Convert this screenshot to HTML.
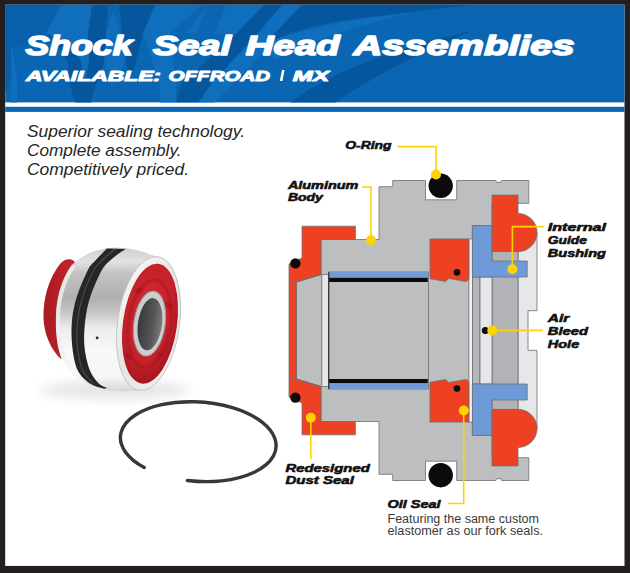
<!DOCTYPE html>
<html><head><meta charset="utf-8">
<style>
html,body{margin:0;padding:0;background:#231f20;}
body{width:630px;height:573px;overflow:hidden;position:relative;}
svg{position:absolute;left:0;top:0;display:block;}
</style></head>
<body>
<svg width="630" height="573" viewBox="0 0 630 573">
<defs>
  <clipPath id="hdrclip"><rect x="5.2" y="4.7" width="619.3" height="97.7"/></clipPath>
  <filter id="blur3" x="-50%" y="-50%" width="200%" height="200%"><feGaussianBlur stdDeviation="6"/></filter>
  <linearGradient id="silver" x1="0" y1="0" x2="0" y2="1">
    <stop offset="0" stop-color="#cfcfcf"/>
    <stop offset="0.1" stop-color="#e2e2e2"/>
    <stop offset="0.18" stop-color="#c2c2c2"/>
    <stop offset="0.35" stop-color="#b0b0b0"/>
    <stop offset="0.46" stop-color="#c8c8c8"/>
    <stop offset="0.56" stop-color="#ededed"/>
    <stop offset="0.72" stop-color="#f8f8f8"/>
    <stop offset="0.9" stop-color="#f6f6f6"/>
    <stop offset="1" stop-color="#d6d6d6"/>
  </linearGradient>
  <radialGradient id="redface" cx="0.45" cy="0.4" r="0.6">
    <stop offset="0" stop-color="#d22a33"/>
    <stop offset="0.7" stop-color="#c4212b"/>
    <stop offset="1" stop-color="#a8161f"/>
  </radialGradient>
  <linearGradient id="redcap" x1="0" y1="0" x2="1" y2="0">
    <stop offset="0" stop-color="#a81a22"/>
    <stop offset="1" stop-color="#c8262e"/>
  </linearGradient>
  <linearGradient id="rim" x1="0" y1="0" x2="1" y2="1">
    <stop offset="0" stop-color="#fafafa"/>
    <stop offset="0.5" stop-color="#e4e4e4"/>
    <stop offset="1" stop-color="#f2f2f2"/>
  </linearGradient>
  <linearGradient id="hole" x1="0" y1="0" x2="1" y2="0">
    <stop offset="0" stop-color="#3a3a3a"/>
    <stop offset="0.6" stop-color="#555"/>
    <stop offset="1" stop-color="#7a7a7a"/>
  </linearGradient>
</defs>

<!-- white content -->
<rect x="5.2" y="4.7" width="619.3" height="561.2" fill="#ffffff"/>
<!-- header -->
<rect x="5.2" y="4.7" width="619.3" height="97.7" fill="#0a66b3"/>
<rect x="5.2" y="106.8" width="619.3" height="5.1" fill="#0a66b3"/>
<g clip-path="url(#hdrclip)">
  <polygon fill="#0860aa" points="5,5 61,5 46,33 30,45 11,48 11,80 5,92"/>
  <g fill="#106fbc">
    <path d="M11,48 C16,62 18,80 17,103 L11,103 C12,85 11,65 11,48 Z"/>
    <polygon points="61,5 92,5 88,33 89,62 85,82 81,62 72,46 46,33"/>
    <polygon points="113,11 120,33 125,62 112,86 104,62 106,33"/>
    <polygon points="155,5 202,5 170,33 176,84 176,103 160,103 160,84 143,33"/>
    <polygon points="206,9 197,33 185,33"/>
    <polygon points="226,5 264,5 236,34 214.6,34"/>
    <polygon points="282,5 302,5 282,34 214,103 198,103 211,84 257,34"/>
    <path d="M262,46 C285,34 330,22 410,13 C360,25 310,40 275,60 Z"/>
  </g>
  <g fill="#06569e">
    <polygon points="46,33 72,46 81,62 85,82 89,62 88,33 92,5 108,5 106,33 104,62 96.4,84 91,103 75,103 69.7,84 68,62 55,42"/>
    <polygon points="119,5 155,5 143,33 136,62 128,84 126,62 122,33"/>
    <polygon points="264,5 282,5 257,34 211,84 198,103 176,103 181,84 236,34"/>
    <path d="M302,5 L470,5 C430,10 380,15 340,21 C305,27 280,36 262,46 Z"/>
    <path d="M290,103 C320,80 375,52 475,30 C425,50 370,78 335,103 Z"/>
  </g>
</g>

<!-- header titles -->
<g font-family="Liberation Sans" font-weight="bold" font-style="italic" font-size="28.5" fill="#fff" stroke="#fff" stroke-width="1.6" stroke-linejoin="round">
<text x="25.5" y="54.5" textLength="107" lengthAdjust="spacingAndGlyphs">Shock</text>
<text x="153" y="54.5" textLength="78" lengthAdjust="spacingAndGlyphs">Seal</text>
<text x="245.8" y="54.5" textLength="94" lengthAdjust="spacingAndGlyphs">Head</text>
<text x="353.5" y="54.5" textLength="221" lengthAdjust="spacingAndGlyphs">Assemblies</text>
</g>
<g font-family="Liberation Sans" font-weight="bold" font-style="italic" font-size="15.2" fill="#fff" stroke="#fff" stroke-width="1" stroke-linejoin="round">
<text x="26" y="81" textLength="135" lengthAdjust="spacingAndGlyphs">AVAILABLE:</text>
<text x="168.6" y="81" textLength="101.5" lengthAdjust="spacingAndGlyphs">OFFROAD</text>
<text x="292.8" y="81" textLength="36.2" lengthAdjust="spacingAndGlyphs">MX</text>
</g>
<polygon points="282,70 284.6,70 282.4,81 279.8,81" fill="#fff"/>

<!-- intro text -->
<g font-family="Liberation Sans" font-style="italic" font-size="15.8" fill="#262626">
<text x="27" y="136.8" textLength="218" lengthAdjust="spacingAndGlyphs">Superior sealing technology.</text>
<text x="27" y="155.8" textLength="154.5" lengthAdjust="spacingAndGlyphs">Complete assembly.</text>
<text x="27" y="174.8" textLength="162" lengthAdjust="spacingAndGlyphs">Competitively priced.</text>
</g>

<!-- ===== DIAGRAM ===== -->
<g stroke="#6d6e71" stroke-width="0.8" stroke-linejoin="miter">
  <!-- light gray right piece -->
  <polygon fill="#e6e7e8" points="518,232 537,232 537,310.7 528,310.7 528,350.3 537,350.3 537,429 518,429"/>
  <!-- medium gray strip -->
  <rect x="492" y="251.6" width="26" height="157.8" fill="#b1b3b6"/>
  <!-- main body -->
  <polygon fill="#bcbec0" points="321,239.5 379,239.5 379,186.7 392.7,186.7 392.7,180.5 425.5,180.5 425.5,199.8 456.7,199.8 456.7,180.5 495.9,180.5 496.5,182.3 501,182.3 501.5,180.5 528.8,180.5 528.8,203.3 492,203.3 492,225.6 472.4,225.6 472.4,435.4 492,435.4 492,457.7 528.8,457.7 528.8,480.5 501.5,480.5 501,478.7 496.5,478.7 495.9,480.5 456.7,480.5 456.7,461.2 425.5,461.2 425.5,480.5 392.7,480.5 392.7,474.3 379,474.3 379,421.5 321,421.5 321,386.5 296.4,378.9 296.4,282.1 321,274.5"/>
  <!-- inner strips right -->
  <rect x="472.4" y="277" width="7.6" height="107" fill="#b4b6b9"/>
  <rect x="480" y="277" width="12" height="107" fill="#e6e7e8"/>
  <rect x="468.9" y="238.9" width="3.5" height="183.2" fill="#f1f2f2"/>
  <!-- white strip left of bore -->
  <rect x="321.8" y="274.5" width="6.7" height="112" fill="#e6e7e8"/>
  <!-- bore -->
  <rect x="328.5" y="272" width="99.9" height="117" fill="#bcbec0"/>
</g>
<!-- bore strips -->
<rect x="329" y="272.2" width="98.8" height="5.6" fill="#6f9ad8"/>
<rect x="329" y="277.8" width="98.8" height="4.2" fill="#0b0b0b"/>
<rect x="329" y="379" width="98.8" height="4.3" fill="#0b0b0b"/>
<rect x="329" y="383.3" width="98.8" height="5.6" fill="#6f9ad8"/>
<line x1="328.7" y1="272" x2="328.7" y2="389" stroke="#3c3c3e" stroke-width="1.4"/>

<g stroke="#6d6e71" stroke-width="0.8">
  <!-- blue L pieces -->
  <polygon fill="#6f9ad8" points="472.4,225.6 492,225.6 492,261 527.2,261 527.2,277 472.4,277"/>
  <polygon fill="#6f9ad8" points="472.4,435.4 492,435.4 492,400 527.2,400 527.2,384 472.4,384"/>
  <!-- red bushings -->
  <path fill="#ee4123" d="M492,195.1 H518 V213.5 A19,19 0 0 1 518,251.6 H492 Z"/>
  <path fill="#ee4123" d="M492,465.9 H518 V447.5 A19,19 0 0 0 518,409.4 H492 Z"/>
  <!-- oil seals -->
  <polygon fill="#ee4123" points="430,238.9 468.9,238.9 468.9,279.4 466,281.5 448.6,278.4 445.8,281.5 430,278.7"/>
  <polygon fill="#ee4123" points="430,422.1 468.9,422.1 468.9,381.6 466,379.5 448.6,382.6 445.8,379.5 430,382.3"/>
  <!-- dust seal -->
  <polygon fill="#ee4123" points="302,226.2 355.4,226.2 355.4,239.5 321,239.5 321,274.5 296.4,282.1 296.4,378.9 321,386.5 321,421.5 355.4,421.5 355.4,434.8 302,434.8 302,403 289,397 289,264 302,258"/>
  <line x1="289" y1="283.6" x2="321" y2="274.5"/>
  <line x1="289" y1="377.4" x2="321" y2="386.5"/>
</g>
<!-- black dots -->
<g fill="#0b0b0b">
  <circle cx="440.7" cy="185.8" r="12.2"/>
  <circle cx="440.7" cy="475.2" r="12.2"/>
  <circle cx="295.4" cy="263.4" r="5.2"/>
  <circle cx="295.4" cy="397.6" r="5.2"/>
  <circle cx="457" cy="272.4" r="3.3"/>
  <circle cx="457" cy="388.6" r="3.3"/>
  <circle cx="485.3" cy="330.4" r="3.5"/>
</g>
<!-- yellow leaders -->
<g stroke="#ffd200" stroke-width="1.6" fill="none">
  <polyline points="397,146.6 436,146.6 436,174.5"/>
  <polyline points="362,187 371,187 371,240.3"/>
  <polyline points="543.8,226.6 512.4,226.6 512.4,269.3"/>
  <polyline points="492.3,330.4 543,330.4"/>
  <polyline points="310.8,417.7 310.8,459"/>
  <polyline points="463.7,410.5 463.7,503.5 448,503.5"/>
</g>
<g fill="#ffd200">
  <circle cx="436" cy="174.5" r="5"/>
  <circle cx="371" cy="240.3" r="5"/>
  <circle cx="512.4" cy="269.3" r="5"/>
  <circle cx="492.3" cy="330.4" r="5"/>
  <circle cx="310.8" cy="417.7" r="5"/>
  <circle cx="463.7" cy="410.5" r="5"/>
</g>

<!-- labels -->
<g font-family="Liberation Sans" font-weight="bold" font-style="italic" font-size="10.2" fill="#111" stroke="#111" stroke-width="0.55" stroke-linejoin="round">
  <text x="345.2" y="148.8" textLength="46.4" lengthAdjust="spacingAndGlyphs">O-Ring</text>
  <text x="287.9" y="188.9" textLength="70.4" lengthAdjust="spacingAndGlyphs">Aluminum</text>
  <text x="287.9" y="201.4" textLength="35" lengthAdjust="spacingAndGlyphs">Body</text>
  <text x="547.8" y="231" textLength="58.2" lengthAdjust="spacingAndGlyphs">Internal</text>
  <text x="547.8" y="243.5" textLength="39.2" lengthAdjust="spacingAndGlyphs">Guide</text>
  <text x="547.8" y="256.6" textLength="58.1" lengthAdjust="spacingAndGlyphs">Bushing</text>
  <text x="547.8" y="322" textLength="21.5" lengthAdjust="spacingAndGlyphs">Air</text>
  <text x="547.8" y="335" textLength="40.3" lengthAdjust="spacingAndGlyphs">Bleed</text>
  <text x="547.8" y="348" textLength="31.4" lengthAdjust="spacingAndGlyphs">Hole</text>
  <text x="285.4" y="472" textLength="84.4" lengthAdjust="spacingAndGlyphs">Redesigned</text>
  <text x="285.4" y="484" textLength="68.5" lengthAdjust="spacingAndGlyphs">Dust Seal</text>
  <text x="387.5" y="508" textLength="53" lengthAdjust="spacingAndGlyphs">Oil Seal</text>
</g>
<g font-family="Liberation Sans" font-size="12.5" fill="#3a3a3a">
  <text x="387.5" y="522.9" textLength="151.5" lengthAdjust="spacingAndGlyphs">Featuring the same custom</text>
  <text x="387.5" y="534.6" textLength="155.5" lengthAdjust="spacingAndGlyphs">elastomer as our fork seals.</text>
</g>

<!-- ===== PHOTO ===== -->
<ellipse cx="115" cy="390" rx="75" ry="9" fill="#000" opacity="0.10" filter="url(#blur3)"/>
<!-- red back cap -->
<path d="M60,264 C64,259 70,258 74,261 L78,266 L70,362 C65,361 60,359 57,355 C49,345 44,332 43.5,318 C43,298 49,278 60,264 Z" fill="url(#redcap)"/>
<!-- body -->
<path d="M72,265 C80,256 95,249 113,247.5 L124,248 C136,249 147,253 155.9,256.5 A31,67.5 8 0 1 141.1,390.5 C128,392 112,391.5 99,388.5 C86,385.5 72,377 62,360 C56,345 55.5,328 56,313 C57.5,292 63,277 72,265 Z" fill="url(#silver)"/>
<path d="M73.5,266 C65,278 59.5,293 58.2,313 C57.7,328 58.5,344 64.5,358" fill="none" stroke="#eeeeee" stroke-width="4" opacity="0.85"/>
<!-- o-ring -->
<path d="M107.0,248.6 C105.0,250.7 98.1,257.4 94.9,261.0 C91.7,264.6 90.9,264.1 87.9,270.0 C84.9,275.9 79.7,287.9 77.0,296.2 C74.3,304.5 72.8,311.7 72.0,320.0 C71.2,328.3 71.3,337.7 72.2,346.0 C73.1,354.3 74.5,363.7 77.5,370.0 C80.5,376.3 85.6,380.5 90.0,383.6 C94.4,386.7 101.7,387.9 104.0,388.8 L107.0,388.0 C105.6,387.3 101.7,386.6 98.8,383.6 C95.9,380.6 92.1,376.3 89.7,370.0 C87.3,363.7 85.1,354.3 84.4,346.0 C83.7,337.7 84.3,328.3 85.3,320.0 C86.3,311.7 87.7,304.5 90.5,296.2 C93.3,287.9 98.2,276.4 101.9,270.0 C105.7,263.6 109.0,261.5 113.0,258.0 C117.0,254.5 123.5,250.5 125.6,249.0 Z" fill="#262626"/>
<path d="M115.3,248.8 C113.2,250.6 106.5,256.0 103.0,259.5 C99.4,263.0 97.3,263.9 93.9,270.0 C90.5,276.1 85.5,287.9 82.8,296.2 C80.0,304.5 78.6,311.7 77.7,320.0 C76.7,328.3 76.5,337.7 77.3,346.0 C78.1,354.3 79.9,363.7 82.6,370.0 C85.3,376.3 91.6,381.3 93.4,383.6" fill="none" stroke="#6e6e6e" stroke-width="1.2" opacity="0.5"/>
<circle cx="97.1" cy="337.9" r="1.4" fill="#2a2a2a"/>
<g transform="rotate(8 148.5 323.5)">
  <!-- front face -->
  <ellipse cx="148.5" cy="323.5" rx="31" ry="67.5" fill="url(#rim)" stroke="#bdbdbd" stroke-width="0.8"/>
  <ellipse cx="150" cy="323.5" rx="27" ry="60.5" fill="url(#redface)"/>
  <ellipse cx="149.5" cy="323.5" rx="21" ry="44" fill="none" stroke="#a3141d" stroke-width="3.5" opacity="0.4"/>
  <g fill="#9e121b" opacity="0.55">
    <rect x="131" y="290" width="7" height="5" transform="rotate(-35 134 292)"/>
    <rect x="163" y="300" width="7" height="5" transform="rotate(35 166 302)"/>
    <rect x="161" y="350" width="7" height="5" transform="rotate(-35 164 352)"/>
    <rect x="130" y="356" width="7" height="5" transform="rotate(35 133 358)"/>
  </g>
  <ellipse cx="149.5" cy="323.5" rx="15.7" ry="32.7" fill="#cdcdcd" stroke="#9a9a9a" stroke-width="1"/>
  <ellipse cx="150" cy="324" rx="12" ry="26.3" fill="url(#hole)"/>
</g>
<!-- clip ring -->
<path d="M187.4,480.5 A78,39.7 4 1 0 144.2,467.5" fill="none" stroke="#383838" stroke-width="3.4" stroke-linecap="round"/>

</svg>
</body></html>
